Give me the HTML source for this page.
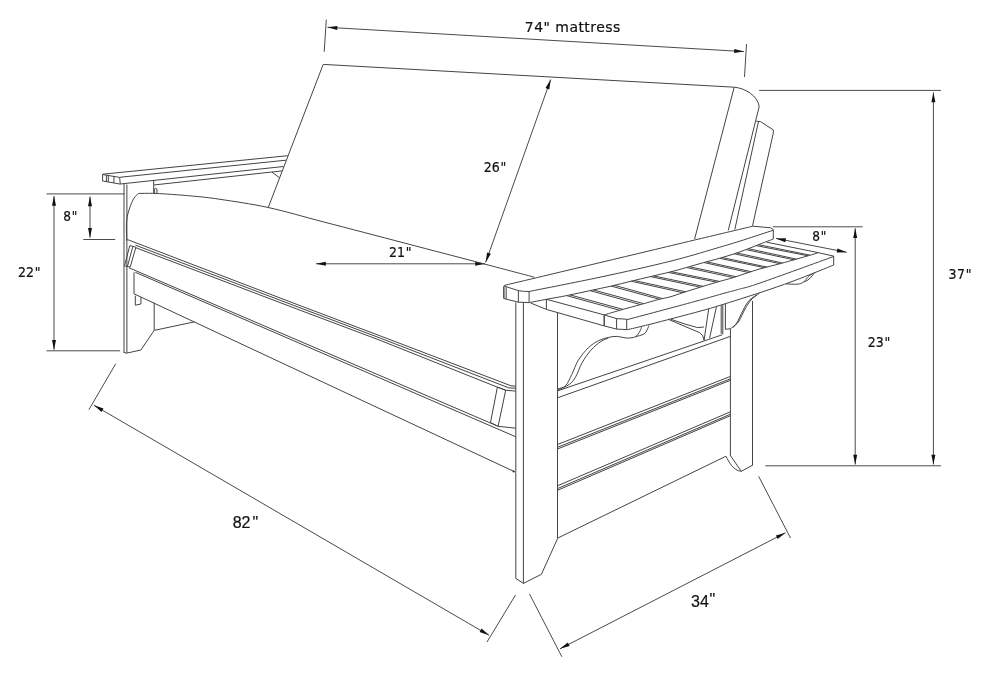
<!DOCTYPE html>
<html lang="en">
<head>
<meta charset="utf-8">
<title>Futon frame dimensions</title>
<style>
html,body{margin:0;padding:0;background:#fff;}
body{width:990px;height:676px;overflow:hidden;}
svg{display:block;will-change:transform;}
svg path{fill:none;stroke:#444;stroke-width:1;stroke-linecap:butt;stroke-linejoin:round;}
svg path.dm{stroke:#4a4a4a;}
svg .ah{fill:#111;stroke:none;}
svg text{fill:#111;stroke:#111;stroke-width:0.2;}
svg text.dv{font-family:"DejaVu Sans","Liberation Sans",sans-serif;}
svg text.dc{font-family:"DejaVu Sans Condensed","DejaVu Sans","Liberation Sans",sans-serif;font-stretch:condensed;}
svg text.lb{font-family:"Liberation Sans","DejaVu Sans",sans-serif;}
</style>
</head>
<body>
<svg width="990" height="676" viewBox="0 0 990 676">
<rect x="0" y="0" width="990" height="676" fill="#ffffff" stroke="none"/>
<g id="dims">
<path d="M327.5 27.3 L744 51.6" class="dm"/>
<polygon class="ah" points="327.5,27.3 337.4,25.9 337.2,29.9"/>
<polygon class="ah" points="744,51.6 734.1,53 734.3,49"/>
<path d="M326.3 19.7 L324.2 51.8" class="dm"/>
<path d="M746.5 44 L744.5 77" class="dm"/>
<text x="524.8" y="32.3" font-size="14" class="dv" letter-spacing="0.45">74" mattress</text>
<path d="M550.7 79.5 L485.7 262.3" class="dm"/>
<polygon class="ah" points="550.7,79.5 549.3,89.4 545.5,88.1"/>
<polygon class="ah" points="485.7,262.3 487.1,252.4 490.9,253.7"/>
<text x="483.8" y="172" font-size="14" class="dc">26<tspan dx="0.7">"</tspan></text>
<path d="M316 263.8 L485 263.8" class="dm"/>
<polygon class="ah" points="316,263.8 325.8,261.8 325.8,265.8"/>
<polygon class="ah" points="485,263.8 475.2,265.8 475.2,261.8"/>
<text x="388.9" y="257.2" font-size="14" class="dc">21<tspan dx="0.7">"</tspan></text>
<path d="M90 196.5 L90 237.8" class="dm"/>
<polygon class="ah" points="90,196.5 92,206.3 88,206.3"/>
<polygon class="ah" points="90,237.8 88,228 92,228"/>
<path d="M83.3 239.5 L115.2 239.5" class="dm"/>
<path d="M46.5 193.9 L124.5 193.9" class="dm"/>
<text x="63.3" y="220.8" font-size="13.5" class="dc">8<tspan dx="0.7">"</tspan></text>
<path d="M54 196 L54 349.8" class="dm"/>
<polygon class="ah" points="54,196 56,205.8 52,205.8"/>
<polygon class="ah" points="54,349.8 52,340 56,340"/>
<path d="M46.5 350.8 L120.2 350.8" class="dm"/>
<text x="17.9" y="277.2" font-size="14" class="dc">22<tspan dx="0.7">"</tspan></text>
<path d="M94 405.3 L489.1 635.3" class="dm"/>
<polygon class="ah" points="94,405.3 103.5,408.5 101.5,412"/>
<polygon class="ah" points="489.1,635.3 479.6,632.1 481.6,628.6"/>
<path d="M115.7 363.8 L88.9 409.7" class="dm"/>
<path d="M515.5 595 L487 642" class="dm"/>
<text x="232.7" y="528" font-size="16" class="lb">82<tspan dx="2" dy="0">"</tspan></text>
<path d="M560 648.8 L785.5 532.8" class="dm"/>
<polygon class="ah" points="560,648.8 567.8,642.5 569.6,646.1"/>
<polygon class="ah" points="785.5,532.8 777.7,539.1 775.9,535.5"/>
<path d="M529.5 594 L561.9 656.8" class="dm"/>
<path d="M758.7 476.4 L790.5 538" class="dm"/>
<text x="691" y="606.8" font-size="16" class="lb">34<tspan dx="0.6" dy="-2">"</tspan></text>
<path d="M855.2 228.3 L855.2 464.5" class="dm"/>
<polygon class="ah" points="855.2,228.3 857.2,238.1 853.2,238.1"/>
<polygon class="ah" points="855.2,464.5 853.2,454.7 857.2,454.7"/>
<path d="M772.8 226.8 L862.7 226.8" class="dm"/>
<text x="867.7" y="346.9" font-size="14" class="dc">23<tspan dx="0.7">"</tspan></text>
<path d="M933.4 92.4 L933.4 464.5" class="dm"/>
<polygon class="ah" points="933.4,92.4 935.4,102.2 931.4,102.2"/>
<polygon class="ah" points="933.4,464.5 931.4,454.7 935.4,454.7"/>
<path d="M759.2 90.4 L941 90.4" class="dm"/>
<path d="M765.3 465.8 L941 465.8" class="dm"/>
<text x="948.6" y="279" font-size="14" class="dc" letter-spacing="0.5">37<tspan dx="0.2">"</tspan></text>
<path d="M776 238.4 L846.7 252.3" class="dm"/>
<polygon class="ah" points="776,238.4 786,238.3 785.2,242.3"/>
<polygon class="ah" points="846.7,252.3 836.7,252.4 837.5,248.4"/>
<text x="812.3" y="241" font-size="13.5" class="dc">8<tspan dx="0.7">"</tspan></text>
</g>
<g id="back">
<path d="M268.2 207.6 L323.2 64.4 L734.2 87.2 C745 88 758 96 759.2 106.6 L728.3 230.3"/>
<path d="M734.2 87.2 L694.6 239.1"/>
<path d="M758.5 121.5 L734.8 229.5"/>
<path d="M756.3 121.1 L760.7 121.7 L773.3 129.9 L773.3 133.1 L752.5 225.8"/>
</g>
<g id="larm">
<path d="M102.6 174.2 L287.8 155.7" stroke-width="1.7"/>
<path d="M119.6 177.3 L286 160.2"/>
<path d="M120.3 184 L283.5 166.5"/>
<path d="M153.7 185 L282 170.9"/>
<path d="M102.6 174.5 L102.6 181 L120.3 184.1 L119.6 177.4 L102.6 174.5"/>
<path d="M106.4 175.2 L106.4 181.7"/>
<path d="M108.3 175.5 L108.3 182" stroke-width="1.4"/>
<path d="M113.9 176.5 L113.9 183"/>
<path d="M272 172.1 L279.5 177.8"/>
<path d="M124 184 L124 352.3"/>
<path d="M126.9 184.5 L126.9 353"/>
<path d="M123.5 352.2 L126.4 353.2 L140.9 350 L154.2 330.4 L154.2 302.6"/>
<path d="M154.2 330.4 L194.6 321.8"/>
<path d="M153.7 180.5 L153.7 193.6"/>
<path d="M154.3 193.6 L154.3 189 Q155.6 187.8 156.9 189 L156.9 193.6"/>
</g>
<g id="seat">
<path d="M126.7 241 C126.7 237.7 126.1 226.5 126.6 221 C127.1 215.5 128.4 211.8 129.7 208 C130.9 204.2 132.6 200.4 134.1 198 C135.6 195.6 137.8 194.2 138.6 193.5"/>
<path d="M138.6 193.4 C142.1 193.4 150.2 193.1 159.4 193.6 C168.6 194.1 183.5 195.2 193.6 196.2 C203.7 197.1 207.6 197.4 220 199.3 C232.4 201.2 250.7 203.7 268.2 207.5 C285.7 211.3 302.2 216.4 325 222.3 C347.8 228.2 378.4 236.2 405 243.2 C431.6 250.2 463.2 258.4 484.8 264.1 C506.4 269.8 526 275 534.3 277.2"/>
<path d="M127.3 239.5 L300 305.6 L380 335.8 L511 385.8 L515.8 386.2"/>
<path d="M135.5 245.2 L300 307.8 L380 338 L508.6 387.8 L515.8 388.3"/>
<path d="M136 247.8 L300 310.2 L380 340.3 L498 387.4 L506.1 390.3 L515.8 391.1"/>
<path d="M129.8 245.6 L135.9 247.2 L130.2 267.1 L124.5 265.9Z"/>
<path d="M132.9 246.4 L127.4 266.5"/>
<path d="M497.4 387.1 L505.7 390.3 L498.1 426.3 L490.5 422.5Z"/>
<path d="M498.1 426.3 L515.8 428.2"/>
<path d="M129 267.8 L498.1 426.3"/>
<path d="M135.3 272.3 L515.8 436.8"/>
<path d="M134 293.8 L514.5 471.7"/>
<circle cx="513.6" cy="471.6" r="1" fill="#222"/>
<path d="M134 272.3 L134 293.8"/>
<path d="M135.3 295.7 L135.3 305.2 L140.9 304 L140.9 297"/>
</g>
<g id="fleg">
<path d="M515.8 302.5 L515.8 578.4"/>
<path d="M523.4 302.5 L523.4 583.4"/>
<path d="M557.5 313 L557.5 538.5"/>
<path d="M515.8 578.4 L523.4 583.4 L541.4 574.3 L557.6 538.5"/>
</g>
<g id="side">
<path d="M557.5 390.9 L722.2 334.8"/>
<path d="M557.5 397.8 L730.5 336.3"/>
<path d="M557.5 444.5 L730.4 376.4"/>
<path d="M557.5 447.3 L730.4 378.8"/>
<path d="M557.5 449 L730.4 380.3"/>
<path d="M557.5 485.8 L730.4 411.8"/>
<path d="M557.5 488.6 L730.4 414.2"/>
<path d="M557.5 490.3 L730.4 415.7"/>
<path d="M557.8 538 L726 456.2"/>
<path d="M558 388.8 C559.3 388.3 563.3 388.1 565.6 385.7 C567.9 383.3 569.8 378.5 571.9 374.3 C574 370.1 575.5 364.8 578.2 360.4 C580.9 356 584.9 351.1 588.3 347.8 C591.7 344.5 595 342.5 598.4 340.8 C601.8 339.1 605.4 338.1 608.5 337.4 C611.6 336.7 614.4 336.3 617.3 336.4 C620.2 336.5 623 337.9 626 338 C629 338.1 633.1 338 635.4 336.8 C637.7 335.6 639 332.7 640 331 C641 329.3 641.4 327.4 641.7 326.7"/>
<path d="M558 390 C559.9 389.1 566.3 386.6 569.3 384.4 C572.2 382.2 573.6 380.4 575.7 376.8 C577.8 373.2 579.5 367.3 582 362.9 C584.5 358.5 587.6 353.9 590.8 350.3 C593.9 346.7 597.9 343.6 600.9 341.5 C603.9 339.4 607.2 338.6 608.5 338"/>
<path d="M635.4 336.8 C636.8 336.3 642.1 335.1 644 334 C645.9 332.9 646.2 331.4 647 330 C647.8 328.6 648.7 326.2 649 325.5"/>
<path d="M730.4 328.7 L730.4 456"/>
<path d="M752.5 300.9 L752.5 465"/>
<path d="M725.9 456.2 C729 462 733 470.5 741.3 471.3 L752.9 465"/>
<path d="M730.4 455.5 L741.3 471.3"/>
<path d="M722.8 304.7 L722.8 334.4"/>
<path d="M725.4 304 L725.4 329.3 L730.4 328.7"/>
<path d="M730.4 328.7 C731.5 327.8 734.6 326.1 736.7 323 C738.8 319.9 740.9 314.2 743 310.4 C745.1 306.6 746.6 303.1 749.3 300.3 C752 297.5 757.7 294.5 759.4 293.4"/>
<path d="M733 327.5 C734 326.4 737 324.1 739 321 C741 317.9 743 312.5 745 309 C747 305.5 749 302.3 751 300 C753 297.7 756 295.8 757 295"/>
<path d="M786 283.9 C787.9 283.9 794.4 284.5 797.3 284.2 C800.2 283.9 801.7 283.3 803.6 282 C805.5 280.7 807.2 277.7 808.7 276.3 C810.2 274.9 811.9 274.2 812.5 273.8"/>
<path d="M803.6 282 C804.3 281.7 806.6 281 808 280 C809.4 279 810.8 277.3 812 276 C813.2 274.7 814.5 272.7 815 272"/>
<path d="M668.3 319.3 L699.5 332.6 Q703.5 334.5 704.1 340.4"/>
<path d="M671 319.3 Q685 324.5 697.7 327.6 L703.9 327"/>
<path d="M708.7 308.8 L704.1 340.2"/>
<path d="M716.5 306.5 L709.6 338.1"/>
<path d="M721.2 305.2 L721.2 333.8"/>
</g>
<g id="rarm">
<path d="M505.1 285.2 C512.6 283.4 534.2 278.3 550 274.5 C565.8 270.7 583.3 266.6 600 262.6 C616.7 258.6 634.2 254.5 650 250.7 C665.8 246.9 677.6 244.1 694.7 240 C711.9 235.9 743.2 228.5 752.9 226.2"/>
<path d="M752.9 226.2 L770.6 227.8 L773.3 229.6"/>
<path d="M773.3 229.6 L773.3 239.1" stroke-width="1.6"/>
<path d="M529.1 291.5 C540.9 289.1 576.5 282.2 600 277.2 C623.5 272.2 650.8 266.1 670 261.3 C689.2 256.5 702.8 252.2 715 248.6 C727.2 245 733.7 243.1 743.4 240 C753.1 236.9 768.1 231.9 773.1 230.3"/>
<path d="M529.1 302.6 C532 302.1 540.1 300.5 546.4 299.3 C552.6 298.1 559.3 297.1 566.6 295.6 C573.9 294.2 582.6 292.2 590 290.6 C597.4 289 604.3 287.7 611.2 286.1 C618.1 284.5 624.7 282.8 631.2 281.2 C637.7 279.6 643.5 278.2 650 276.7 C656.5 275.2 663.9 273.5 670 272 C676.1 270.5 680.9 269.1 686.5 267.5 C692.1 265.9 698.4 264 703.9 262.5 C709.4 261 714.5 259.8 719.5 258.3 C724.5 256.9 729.8 255.2 734.2 253.8 C738.6 252.4 741.8 251.2 746.1 249.6 C750.4 248 755.5 245.8 760 244.1 C764.5 242.3 771.1 239.9 773.3 239.1"/>
<path d="M505.1 285.2 Q503.8 285.6 503.8 286.5 L503.8 298.5 L518.4 302.2 L529.1 302.6 L529.1 291.5 Q523 291.6 518.4 290.6 L504.5 286.2"/>
<path d="M503.9 286.5 L503.9 298.5" stroke-width="1.2"/>
<path d="M506.2 287.2 L506.2 298.9"/>
<path d="M518.4 290.6 L518.4 302.2"/>
<path d="M530.4 302.9 L546.4 309.4"/>
<path d="M546.4 309.4 L546.4 299.3 L604.2 314.9"/>
<path d="M546.4 309.4 L604.2 325.9"/>
<path d="M604.2 314.9 L604.2 325.9 L616.6 329.1 L626.7 329.6 L626.7 319.2 L616.6 318.6 L604.2 314.9"/>
<path d="M604.2 314.9 L604.2 325.9" stroke-width="1.8"/>
<path d="M616.6 318.6 L616.6 329.1"/>
<path d="M604.2 314.9 C606.8 314.1 613.6 312.1 619.8 310.3 C626 308.5 635 306.1 641.5 304.3 C648 302.5 653.8 300.7 658.5 299.5 C663.2 298.3 666 298 670 296.9 C674 295.8 677.8 294.3 682.8 292.7 C687.8 291.1 694.6 288.9 700.3 287.2 C706 285.4 711.3 283.8 716.8 282.2 C722.3 280.6 728.3 279.1 733.3 277.6 C738.3 276.1 742.5 274.4 747 273 C751.5 271.6 754.4 270.5 760 268.9 C765.6 267.3 775.2 265 780.7 263.5 C786.2 262 788.7 261.3 793.3 260 C797.9 258.7 804.2 256.9 808.4 255.7 C812.6 254.5 816.8 253.2 818.5 252.7"/>
<path d="M626.5 319.8 C637.9 316.8 678.4 306 694.8 301.5 C711.2 297 717.9 295 725 293 C732.1 291 731.9 291.3 737.7 289.6 C743.5 287.9 744 288.5 760 283 C776 277.5 821.4 260.9 833.7 256.5"/>
<path d="M626.7 329.8 C630.6 328.9 637.8 327.4 650 324.3 C662.2 321.2 687.5 314.6 700 311.2 C712.5 307.8 713.7 307.3 725 303.8 C736.3 300.3 755.5 294.2 768 290 C780.5 285.8 789 282.7 800 278.5 C811 274.3 828.1 267.2 833.7 265"/>
<path d="M818.5 252.7 L833.7 256.1"/>
<path d="M833.7 256.1 L833.7 265" stroke-width="1.6"/>
<path d="M766.8 242.2 L818.5 252.7"/>
<path d="M566.6 295.6 L619.8 310.3"/>
<path d="M570 294.9 L623 309.4"/>
<path d="M590 290.6 L640.5 304.6"/>
<path d="M593.3 289.9 L643.6 303.7"/>
<path d="M611.2 286.1 L659.5 299.3"/>
<path d="M614.4 285.3 L662.5 298.6"/>
<path d="M631.2 281.2 L682.8 292.7"/>
<path d="M634.3 280.5 L685.7 291.8"/>
<path d="M650.5 276.6 L700.3 287.2"/>
<path d="M653.5 275.9 L703.1 286.3"/>
<path d="M668.2 272.4 L716.8 282.2"/>
<path d="M671.1 271.7 L719.5 281.4"/>
<path d="M686.5 267.5 L733.3 277.6"/>
<path d="M689.3 266.7 L736 276.7"/>
<path d="M703.9 262.5 L748.5 272.5"/>
<path d="M706.6 261.8 L751.1 271.7"/>
<path d="M719.5 258.3 L764.5 267.7"/>
<path d="M722.1 257.5 L767 267.1"/>
<path d="M734.2 253.8 L780 263.7"/>
<path d="M736.7 252.9 L782.4 263"/>
<path d="M746.1 249.6 L794 259.8"/>
<path d="M748.5 248.7 L796.3 259.1"/>
<path d="M756.2 245.6 L808 255.8"/>
<path d="M758.5 244.7 L810.2 255.2"/>
</g>
</svg>
</body>
</html>
